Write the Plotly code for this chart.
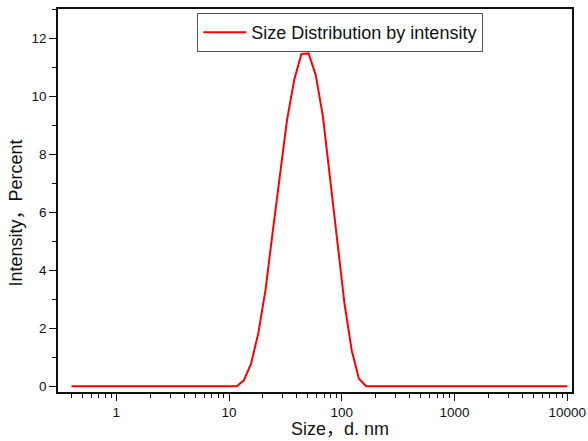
import plotly.graph_objects as go

size_nm = [0.4, 0.4632, 0.5365, 0.6213, 0.7195, 0.8332, 0.9649, 1.117, 1.294, 1.499,
           1.736, 2.01, 2.328, 2.696, 3.122, 3.615, 4.187, 4.849, 5.615, 6.503,
           7.531, 8.721, 10.1, 11.7, 13.54, 15.69, 18.17, 21.04, 24.36, 28.21,
           32.67, 37.84, 43.82, 50.75, 58.77, 68.06, 78.82, 91.28, 105.7, 122.4,
           141.8, 164.2, 190.1, 220.2, 255.0, 295.3, 342.0, 396.1, 458.7, 531.2,
           615.1, 712.4, 825.0, 955.4, 1106, 1281, 1484, 1718, 1990, 2305,
           2669, 3091, 3580, 4145, 4801, 5560, 6439, 7456, 8635, 10000]

intensity = [0, 0, 0, 0, 0, 0, 0, 0, 0, 0,
             0, 0, 0, 0, 0, 0, 0, 0, 0, 0,
             0, 0, 0, 0, 0.2, 0.78, 1.82, 3.3, 5.3, 7.2,
             9.17, 10.55, 11.45, 11.47, 10.72, 9.29, 7.1, 4.9, 2.85, 1.24,
             0.26, 0, 0, 0, 0, 0, 0, 0, 0, 0,
             0, 0, 0, 0, 0, 0, 0, 0, 0, 0,
             0, 0, 0, 0, 0, 0, 0, 0, 0, 0]

series_name = "Size Distribution by intensity"
x_title = "Size，d. nm"
y_title = "Intensity，Percent"

FONT = "Liberation Sans, Arial, Noto Sans CJK SC, sans-serif"

fig = go.Figure()
fig.add_trace(go.Scatter(x=size_nm, y=intensity, mode="lines", name=series_name,
                         line=dict(color="#ff0000", width=2)))

fig.update_layout(
    width=588, height=441,
    margin=dict(l=58, r=16, t=9, b=49, autoexpand=False),
    paper_bgcolor="white", plot_bgcolor="white",
    font=dict(family=FONT, color="#111111", size=13.5),
    showlegend=True,
    legend=dict(x=0.271, y=0.9895, xanchor="left", yanchor="top",
                bordercolor="#555555", borderwidth=1, bgcolor="white",
                font=dict(size=18, family=FONT, color="#111111"),
                itemwidth=43, tracegroupgap=0),
    annotations=[
        dict(text=x_title, xref="paper", yref="paper", x=0.548, y=-0.0966,
             xanchor="center", yanchor="middle", showarrow=False, borderpad=0,
             font=dict(size=18, family=FONT, color="#111111")),
        dict(text=y_title, xref="paper", yref="paper", x=-0.0817, y=0.466,
             xanchor="center", yanchor="middle", showarrow=False, textangle=-90,
             borderpad=0, font=dict(size=18, family=FONT, color="#111111")),
    ],
)

fig.update_xaxes(type="log", range=[-0.517, 4.042], dtick=1, tickformat="d",
                 automargin=False, showgrid=False, zeroline=False,
                 showline=True, linecolor="#111111", linewidth=1.5, mirror=True,
                 ticks="outside", ticklen=7, tickwidth=1.2, tickcolor="#111111",
                 tickfont=dict(size=13.5),
                 minor=dict(ticks="outside", ticklen=4, tickwidth=1, tickcolor="#111111",
                            dtick="D1", showgrid=False))

fig.update_yaxes(range=[-0.2, 13], dtick=2, automargin=False,
                 showgrid=False, zeroline=False,
                 showline=True, linecolor="#111111", linewidth=1.5, mirror=True,
                 ticks="outside", ticklen=7, tickwidth=1.2, tickcolor="#111111",
                 tickfont=dict(size=13.5),
                 minor=dict(ticks="outside", ticklen=4, tickwidth=1, tickcolor="#111111",
                            dtick=1, showgrid=False))

fig.write_html("out.html", config={"displayModeBar": False},
               post_script="document.body.style.margin='0';document.body.style.overflow='hidden';")
